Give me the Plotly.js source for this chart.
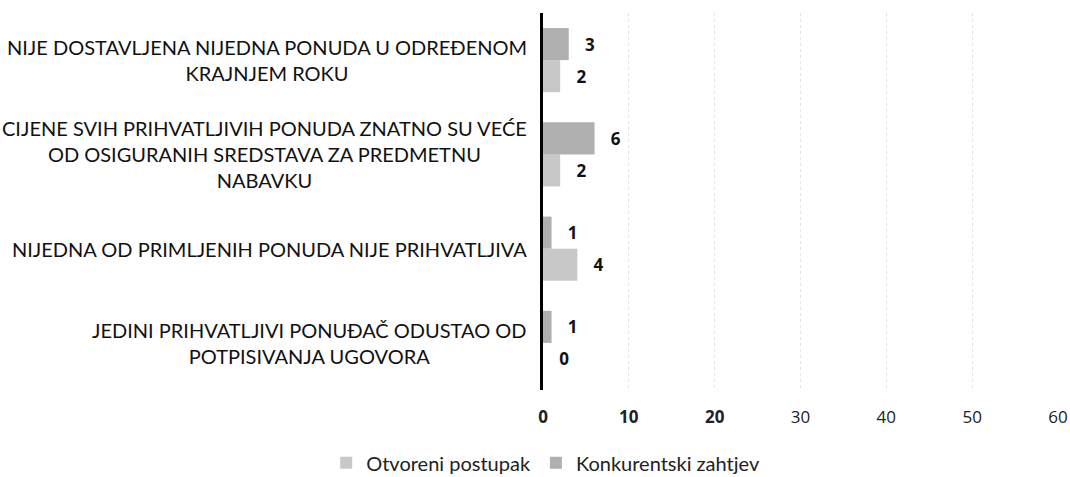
<!DOCTYPE html>
<html>
<head>
<meta charset="utf-8">
<script src="https://cdn.plot.ly/plotly-3.0.1.min.js"></script>
<style>html,body{margin:0;padding:0;background:#fff;}#chart{width:1070px;height:477px;}</style>
</head>
<body>
<div id="chart"></div>
<script>
// Categories listed bottom-to-top (as drawn by the value axis)
const categories = [
  "JEDINI PRIHVATLJIVI PONUĐAČ ODUSTAO OD<br>POTPISIVANJA UGOVORA",
  "NIJEDNA OD PRIMLJENIH PONUDA NIJE PRIHVATLJIVA",
  "CIJENE SVIH PRIHVATLJIVIH PONUDA ZNATNO SU VEĆE<br>OD OSIGURANIH SREDSTAVA ZA PREDMETNU<br>NABAVKU",
  "NIJE DOSTAVLJENA NIJEDNA PONUDA U ODREĐENOM<br>KRAJNJEM ROKU"
];
const seriesNames = ["Otvoreni postupak", "Konkurentski zahtjev"];
const otvoreniPostupak = [0, 4, 2, 2];
const konkurentskiZahtjev = [1, 1, 6, 3];
const xTickVals = [0, 10, 20, 30, 40, 50, 60];
const xTickText = ["<b>0</b>", "<b>10</b>", "<b>20</b>", "30", "40", "50", "60"];

const labelFont = {family: "Open Sans, sans-serif", size: 17, color: "#111", weight: 700};

const traces = [
  {
    type: "bar", orientation: "h", name: seriesNames[0],
    y: categories, x: otvoreniPostupak,
    marker: {color: "#c8c8c8"},
    texttemplate: "\u00a0\u00a0\u00a0%{x}", textposition: "outside", cliponaxis: false,
    constraintext: "none", outsidetextfont: labelFont, hoverinfo: "skip"
  },
  {
    type: "bar", orientation: "h", name: seriesNames[1],
    y: categories, x: konkurentskiZahtjev,
    marker: {color: "#b0b0b0"},
    texttemplate: "\u00a0\u00a0\u00a0%{x}", textposition: "outside", cliponaxis: false,
    constraintext: "none", outsidetextfont: labelFont, hoverinfo: "skip"
  }
];

const annotations = categories.map(c => ({
  xref: "paper", yref: "y", x: -0.027, y: c,
  xanchor: "right", yanchor: "middle", align: "center",
  text: c, showarrow: false,
  font: {family: "Lato, sans-serif", size: 20, color: "#111"}
}));

const layout = {
  width: 1070, height: 477,
  margin: {l: 543, r: 12, t: 13, b: 87},
  paper_bgcolor: "#fff", plot_bgcolor: "#fff",
  barmode: "group", bargap: 0.32, bargroupgap: 0,
  showlegend: true,
  legend: {
    orientation: "h", xref: "container", yref: "container",
    x: 0.51, xanchor: "center", y: 0.03, yanchor: "middle",
    font: {family: "Lato, sans-serif", size: 20, color: "#222"},
    traceorder: "normal", itemwidth: 30
  },
  xaxis: {
    range: [0, 60], tickvals: xTickVals, ticktext: xTickText,
    showgrid: true, gridcolor: "#e4e4e4", griddash: "dot", gridwidth: 1,
    zeroline: false, showline: false, ticks: "",
    ticklabelstandoff: 15,
    tickfont: {family: "Open Sans, sans-serif", size: 17, color: "#222"},
    fixedrange: true
  },
  yaxis: {
    showticklabels: false, showgrid: false, zeroline: false,
    showline: true, linecolor: "#000", linewidth: 3, ticks: "",
    fixedrange: true
  },
  annotations: annotations
};

Plotly.newPlot("chart", traces, layout, {displayModeBar: false, staticPlot: true});
</script>
</body>
</html>
